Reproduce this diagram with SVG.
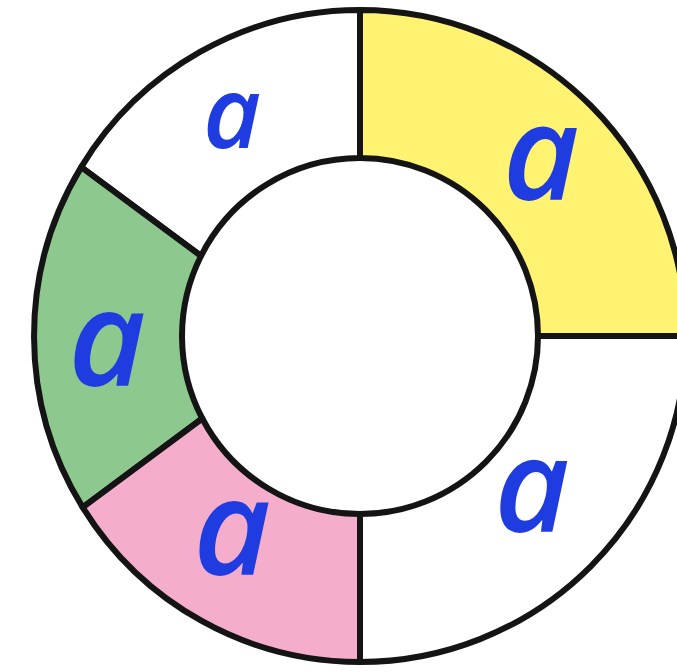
<svg xmlns="http://www.w3.org/2000/svg" width="677" height="672" viewBox="0 0 677 672">
  <style>
    .seg { stroke: #141414; stroke-width: 6; stroke-linejoin: round; }
    .lbl { font-family: "Open Sans", "Noto Sans", sans-serif; font-style: italic; font-weight: 600; fill: #1E3CE0; text-anchor: middle; }
  </style>
  <rect width="677" height="672" fill="#ffffff"/>
  <g id="seg-yellow">
    <path class="seg" fill="#FFF371" d="M 360,10 A 326 326 0 0 1 686,336 L 538,336 A 178 178 0 0 0 360,158 Z"/>
    <text class="lbl" x="541" y="200" font-size="132">a</text>
  </g>
  <g id="seg-topleft">
    <path class="seg" fill="#ffffff" d="M 81.2,167.1 A 326 326 0 0 1 360,10 L 360,158 A 178 178 0 0 0 201,256 Z"/>
    <text class="lbl" x="232" y="148" font-size="100">a</text>
  </g>
  <g id="seg-green">
    <path class="seg" fill="#8DC98F" d="M 82.7,507.3 A 326 326 0 0 1 81.2,167.1 L 201,256 A 178 178 0 0 0 202.3,418.5 Z"/>
    <text class="lbl" x="107" y="386" font-size="134">a</text>
  </g>
  <g id="seg-pink">
    <path class="seg" fill="#F4AECB" d="M 360,662 A 326 326 0 0 1 82.7,507.3 L 202.3,418.5 A 178 178 0 0 0 360,514 Z"/>
    <text class="lbl" x="232" y="575" font-size="134">a</text>
  </g>
  <g id="seg-bottomright">
    <path class="seg" fill="#ffffff" d="M 686,336 A 326 326 0 0 1 360,662 L 360,514 A 178 178 0 0 0 538,336 Z"/>
    <text class="lbl" x="532" y="532" font-size="130">a</text>
  </g>
</svg>
